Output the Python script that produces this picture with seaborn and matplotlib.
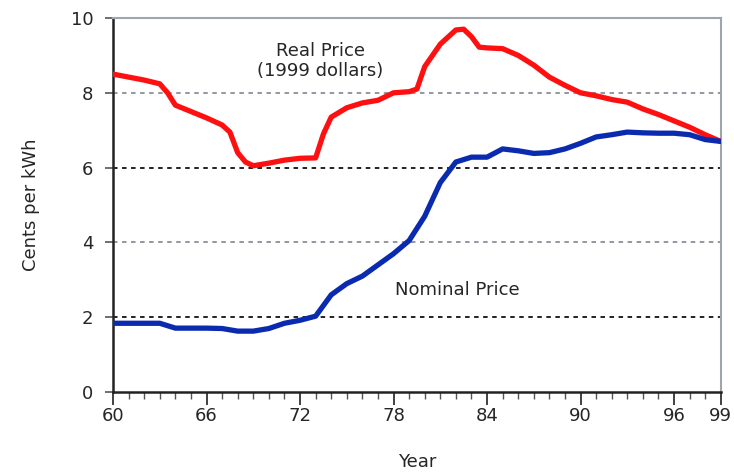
import numpy as np
import pandas as pd
import seaborn as sns
import matplotlib.pyplot as plt
from matplotlib.ticker import MultipleLocator, FixedLocator

# data
real_years = [60, 61, 62, 63, 63.5, 64, 65, 66, 67, 67.5, 68, 68.5, 69, 70, 71, 72, 73,
              73.5, 74, 75, 76, 77, 78, 79, 79.5, 80, 81, 82, 82.5, 83, 83.5, 84, 85,
              86, 87, 88, 89, 90, 91, 92, 93, 94, 95, 96, 97, 98, 99]
real_price = [8.5, 8.42, 8.34, 8.24, 8.0, 7.67, 7.5, 7.33, 7.14, 6.95, 6.4, 6.15, 6.05,
              6.12, 6.2, 6.25, 6.26, 6.9, 7.35, 7.6, 7.73, 7.8, 8.0, 8.03, 8.1, 8.7,
              9.3, 9.68, 9.7, 9.5, 9.22, 9.2, 9.18, 9.0, 8.74, 8.42, 8.2, 8.0, 7.92,
              7.82, 7.75, 7.57, 7.42, 7.25, 7.08, 6.88, 6.7]

nominal_years = list(range(60, 100))
nominal_price = [1.84, 1.84, 1.84, 1.84, 1.71, 1.71, 1.71, 1.70, 1.63, 1.63, 1.70, 1.84,
                 1.92, 2.03, 2.6, 2.9, 3.1, 3.4, 3.7, 4.05, 4.7, 5.6, 6.15, 6.28, 6.28,
                 6.5, 6.45, 6.38, 6.4, 6.5, 6.65, 6.82, 6.88, 6.95, 6.93, 6.92, 6.92,
                 6.88, 6.75, 6.7]

major_years = [60, 66, 72, 78, 84, 90, 96, 99]
y_ticks = [0, 2, 4, 6, 8, 10]

df_real = pd.DataFrame({'year': real_years, 'price': real_price})
df_nom = pd.DataFrame({'year': nominal_years, 'price': nominal_price})

sns.set_style('white')
plt.rcParams['font.family'] = ['DejaVu Sans']

fig = plt.figure(figsize=(7.34, 4.73), dpi=100)
ax = fig.add_axes([0.154, 0.171, 0.828, 0.791])

# dotted reference lines
for v, c in [(2, '#111111'), (4, '#8a8f99'), (6, '#111111'), (8, '#8a8f99')]:
    ax.axhline(v, color=c, lw=1.3, ls=(0, (2.5, 2.5)), zorder=1)

sns.lineplot(data=df_real, x='year', y='price', color='#ff1010', lw=3.8, ax=ax,
             zorder=3, solid_joinstyle='round')
sns.lineplot(data=df_nom, x='year', y='price', color='#0a2bb0', lw=3.8, ax=ax,
             zorder=3, solid_joinstyle='round')

ax.set_xlim(60, 99)
ax.set_ylim(0, 10)
ax.xaxis.set_major_locator(FixedLocator(major_years))
ax.set_xticklabels([str(y) for y in major_years])
ax.xaxis.set_minor_locator(MultipleLocator(1))
ax.set_yticks(y_ticks)

ax.tick_params(axis='x', which='major', direction='out', length=9, width=1.3,
               color='#333333', labelsize=13, pad=2, bottom=True)
ax.tick_params(axis='x', which='minor', direction='out', length=5, width=1.0,
               color='#555555', bottom=True)
ax.tick_params(axis='y', which='major', direction='out', length=6, width=1.2,
               color='#555555', labelsize=13, pad=8, left=True)

for s in ['left', 'bottom']:
    ax.spines[s].set_color('#222222')
    ax.spines[s].set_linewidth(1.8)
for s in ['top', 'right']:
    ax.spines[s].set_color('#a0a4ab')
    ax.spines[s].set_linewidth(1.5)

ax.set_xlabel('Year', fontsize=13, labelpad=20)
ax.set_ylabel('Cents per kWh', fontsize=13, labelpad=22)

ax.text(73.3, 8.85, 'Real Price\n(1999 dollars)', ha='center', va='center',
        fontsize=13, linespacing=1.2)
ax.text(82.1, 2.72, 'Nominal Price', ha='center', va='center', fontsize=13)

fig.savefig('out.png', dpi=100)
